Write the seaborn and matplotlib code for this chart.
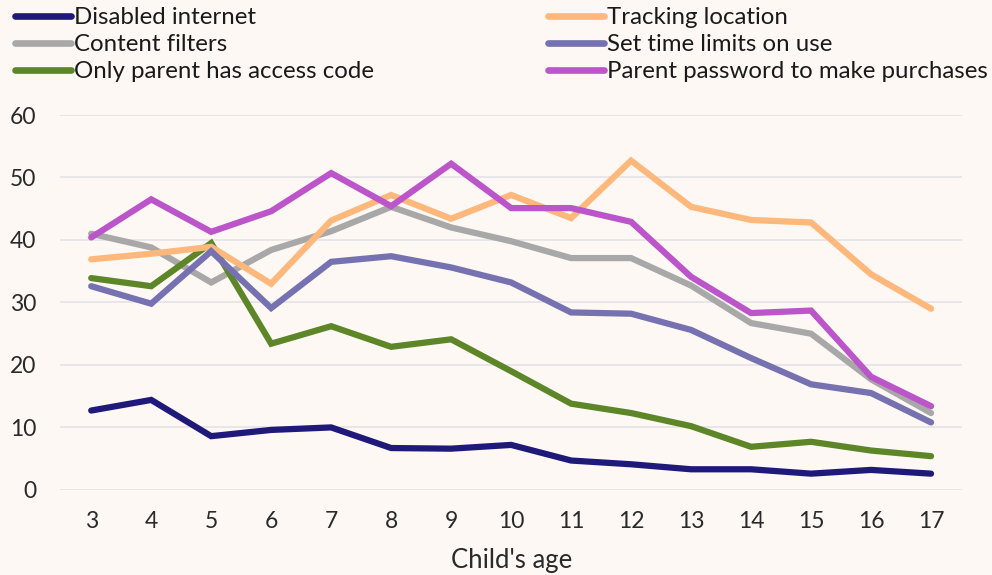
import pandas as pd
import matplotlib.pyplot as plt
import seaborn as sns

# ---------------------------------------------------------------------
# Data (% of parents, by child's age)
# ---------------------------------------------------------------------
ages = [3, 4, 5, 6, 7, 8, 9, 10, 11, 12, 13, 14, 15, 16, 17]

disabled_internet = [12.7, 14.4, 8.6, 9.6, 10.0, 6.7, 6.6, 7.2, 4.7, 4.1, 3.3, 3.3, 2.6, 3.2, 2.6]
content_filters = [41.0, 38.8, 33.2, 38.4, 41.4, 45.3, 42.0, 39.8, 37.1, 37.1, 32.7, 26.7, 25.0, 17.7, 12.3]
only_parent_code = [33.9, 32.6, 39.5, 23.4, 26.2, 22.9, 24.1, 19.0, 13.8, 12.3, 10.2, 6.9, 7.7, 6.3, 5.4]
tracking_location = [36.9, 37.8, 38.9, 33.0, 43.1, 47.2, 43.4, 47.2, 43.5, 52.7, 45.3, 43.2, 42.8, 34.5, 29.0]
time_limits = [32.6, 29.8, 38.2, 29.1, 36.5, 37.4, 35.6, 33.2, 28.4, 28.2, 25.6, 21.1, 16.9, 15.5, 10.8]
parent_password = [40.4, 46.5, 41.3, 44.6, 50.7, 45.4, 52.2, 45.1, 45.1, 42.9, 34.1, 28.3, 28.7, 18.1, 13.4]

series_names = [
    "Disabled internet",
    "Content filters",
    "Only parent has access code",
    "Tracking location",
    "Set time limits on use",
    "Parent password to make purchases",
]
series_values = [
    disabled_internet,
    content_filters,
    only_parent_code,
    tracking_location,
    time_limits,
    parent_password,
]
colors = ["#1f1a7a", "#a8a8a8", "#5c8627", "#ffb87c", "#7671b0", "#bb55c9"]

BG = "#fdf8f3"


def build_frame():
    rows = []
    for name, vals in zip(series_names, series_values):
        for age, v in zip(ages, vals):
            rows.append({"age": age, "value": v, "series": name})
    return pd.DataFrame(rows)


def draw(df):
    sns.set_theme(style="white")
    plt.rcParams["font.family"] = ["Lato", "DejaVu Sans"]

    fig = plt.figure(figsize=(9.92, 5.75), dpi=100, facecolor=BG)
    ax = fig.add_axes([0.0605, 0.148, 0.9095, 0.652], facecolor=BG)

    sns.lineplot(
        data=df, x="age", y="value", hue="series",
        hue_order=series_names, palette=colors,
        linewidth=4.5, ax=ax, legend=False,
        solid_capstyle="round", solid_joinstyle="miter",
    )

    ax.set_xlim(2.48, 17.52)
    ax.set_ylim(0, 60)
    ax.set_xticks(ages)
    ax.set_yticks(range(0, 61, 10))
    ax.yaxis.grid(True, color="#e7e5ea", linewidth=1.3)
    ax.set_axisbelow(True)
    for s in ax.spines.values():
        s.set_visible(False)
    ax.tick_params(axis="both", length=0, labelsize=16.5, labelcolor="#2a2a2a")
    ax.tick_params(axis="x", pad=15)
    ax.tick_params(axis="y", pad=17)
    ax.set_ylabel("")
    ax.set_xlabel("Child's age", fontsize=18.5, color="#2a2a2a", labelpad=11.5)

    # legend in two independent columns across the top
    handles = [plt.Line2D([], [], color=c, linewidth=4.8, solid_capstyle="round") for c in colors]
    common = dict(frameon=False, fontsize=17.3, handlelength=2.35, handletextpad=0.12,
                  labelspacing=0.25, borderaxespad=0, borderpad=0, loc="upper left")
    fig.legend(handles[:3], series_names[:3], bbox_to_anchor=(0.015, 0.987), **common)
    fig.legend(handles[3:], series_names[3:], bbox_to_anchor=(0.552, 0.987), **common)
    for leg in fig.legends:
        for t in leg.get_texts():
            t.set_color("#1a1a1a")

    fig.savefig("out.png", dpi=100, facecolor=BG)
    plt.close(fig)


if __name__ == "__main__":
    draw(build_frame())
